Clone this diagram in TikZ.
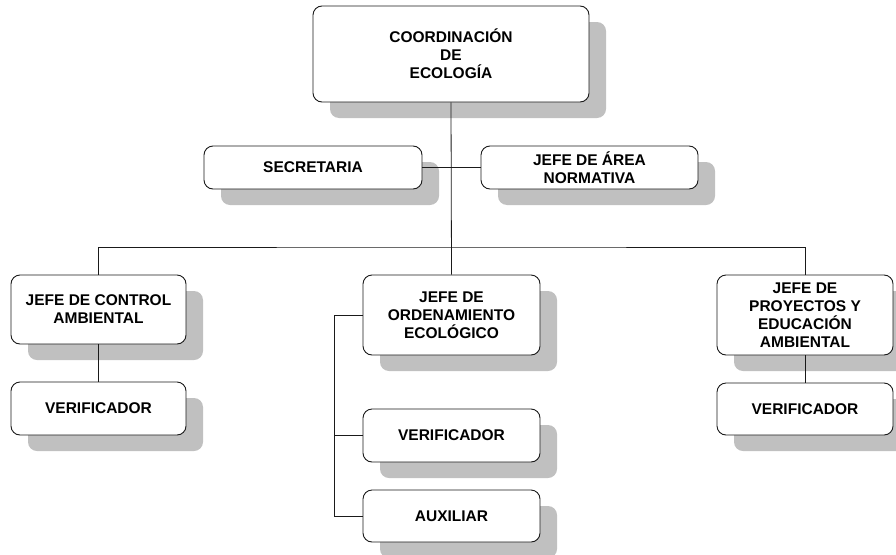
\documentclass[tikz,border=0pt]{standalone}
\usepackage{fontspec}
\setmainfont{Liberation Sans}
\usetikzlibrary{shadows}
\definecolor{shadowgray}{HTML}{C0C0C0}
\definecolor{inkgray}{HTML}{1A1A1A}
\tikzset{
  orgbox/.style={draw=inkgray, line width=0.9pt, fill=white, rounded corners=9pt,
    align=center, inner sep=2pt, text=black,
    font=\fontsize{15.5}{18}\selectfont\bfseries,
    drop shadow={shadow xshift=17pt, shadow yshift=-16pt, fill=shadowgray, opacity=1}},
  link/.style={draw=inkgray, line width=0.8pt}
}
\begin{document}
\begin{tikzpicture}[x=1pt,y=-1pt]
  \useasboundingbox (0,0) rectangle (896,554);
  \clip (0,0) rectangle (896,554);

  % top level
  \node[orgbox, minimum width=276pt, minimum height=96pt] (coord) at (451,54)
    {COORDINACIÓN\\DE\\ECOLOGÍA};

  % staff units
  \node[orgbox, minimum width=218pt, minimum height=43pt] (sec) at (313,167.5) {SECRETARIA};
  \node[orgbox, minimum width=217pt, minimum height=43pt] (area) at (589.5,167.5)
    {JEFE DE ÁREA\\NORMATIVA};

  % departments
  \node[orgbox, minimum width=175pt, minimum height=69pt] (ctrl) at (98.5,309.5)
    {JEFE DE CONTROL\\AMBIENTAL};
  \node[orgbox, minimum width=175pt, minimum height=53pt] (ver1) at (98.5,408.5) {VERIFICADOR};

  \node[orgbox, minimum width=177pt, minimum height=80pt] (orden) at (451.5,315)
    {JEFE DE\\ORDENAMIENTO\\ECOLÓGICO};
  \node[orgbox, minimum width=177pt, minimum height=53pt] (ver2) at (451.5,435.5) {VERIFICADOR};
  \node[orgbox, minimum width=177pt, minimum height=52pt] (aux) at (451.5,516) {AUXILIAR};

  \node[orgbox, minimum width=176pt, minimum height=80pt] (proy) at (805,315)
    {JEFE DE\\PROYECTOS Y\\EDUCACIÓN\\AMBIENTAL};
  \node[orgbox, minimum width=176pt, minimum height=52pt] (ver3) at (805,409) {VERIFICADOR};

  % connectors
  \coordinate (bus) at (451,247);
  \draw[link] (coord.south) -- (orden.north);
  \draw[link] (sec.east) -- (area.west);
  \draw[link] (ctrl.north) |- (bus) -| (proy.north);
  \draw[link] (ctrl.south) -- (ver1.north);
  \draw[link] (proy.south) -- (ver3.north);
  \coordinate (rail) at (334,315);
  \draw[link] (orden.west) -- (rail) |- (aux.west);
  \draw[link] (rail |- ver2.west) -- (ver2.west);
\end{tikzpicture}
\end{document}
